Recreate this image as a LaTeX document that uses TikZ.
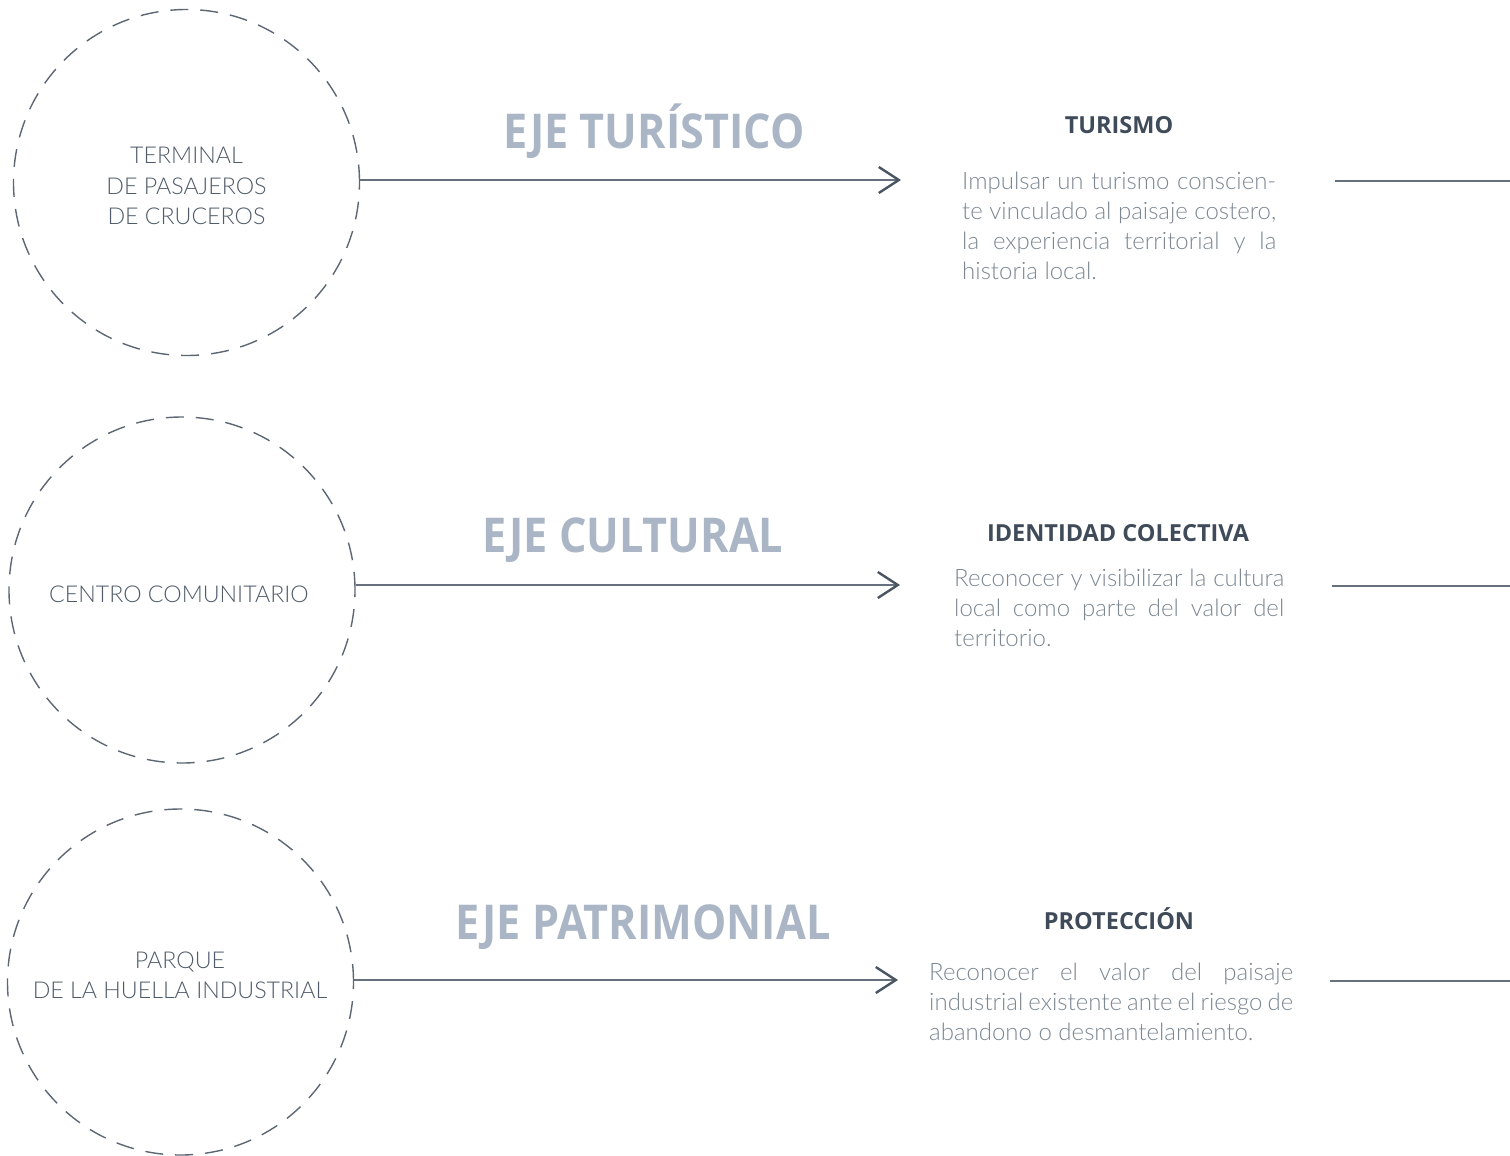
\documentclass[tikz,border=0pt]{standalone}
\usepackage{fontspec}
\setmainfont{Lato}
\newfontfamily\lightfont{Lato Light}
\newfontfamily\titlefont{Open Sans}[FakeStretch=0.9]
\newfontfamily\headfont{Open Sans}
\usetikzlibrary{arrows.meta}
\definecolor{titlec}{HTML}{AAB6C5}
\definecolor{headc}{HTML}{3F4B59}
\definecolor{bodyc}{HTML}{7C8792}
\definecolor{circtc}{HTML}{4F5B69}
\definecolor{linec}{HTML}{66717D}
\definecolor{tipc}{HTML}{4A5562}
\definecolor{dashc}{HTML}{5D6774}
\newcommand{\jstln}[2]{\makebox[#1][s]{#2}}
\newcommand{\lastln}[2]{\makebox[#1][l]{#2}}
\tikzset{
  hub/.style={circle, draw=dashc, line width=1.4pt, dash pattern=on 18pt off 12pt, minimum size=346pt, inner sep=0pt},
  hubtext/.style={text=circtc, align=center, inner sep=0pt, font=\lightfont\fontsize{23.2}{30.5}\selectfont},
  axis/.style={text=titlec, inner sep=0pt, anchor=base, font=\titlefont\bfseries\fontsize{48}{56}\selectfont},
  head/.style={text=headc, inner sep=0pt, anchor=base, font=\headfont\bfseries\fontsize{23.5}{28}\selectfont},
  body/.style={text=bodyc, align=left, inner sep=0pt, anchor=north west, font=\lightfont\fontsize{24}{30}\selectfont},
  link/.style={draw=linec, line width=1.8pt, -{Straight Barb[length=20pt, width=26pt, line width=2.4pt, color=tipc]}},
  tail/.style={draw=linec, line width=1.6pt}
}
\begin{document}
\begin{tikzpicture}[x=1pt, y=-1pt]
\useasboundingbox (0,0) rectangle (1510,1156);
% circles
\node[hub] (c1) at (186.5,182.5) {};
\node[hub] (c2) at (182,590) {};
\node[hub] (c3) at (180.5,982) {};
\node[hubtext] (t1) at (186.5,186) {TERMINAL\\DE PASAJEROS\\DE CRUCEROS};
\node[hubtext] (t2) at (179,594.5) {CENTRO COMUNITARIO};
\node[hubtext] (t3) at (180,975.5) {PARQUE\\DE LA HUELLA INDUSTRIAL};
% arrow targets
\coordinate (e1) at (901,180);
\coordinate (e2) at (900,585);
\coordinate (e3) at (898,980);
\draw[link] (c1.east |- e1) -- (e1);
\draw[link] (c2.east |- e2) -- (e2);
\draw[link] (c3.east |- e3) -- (e3);
% axis titles
\node[axis] (a1) at (654,148) {EJE TURÍSTICO};
\node[axis] (a2) at (633,552) {EJE CULTURAL};
\node[axis] (a3) at (643,939) {EJE PATRIMONIAL};
% headings
\node[head] (h1) at (1119,133) {TURISMO};
\node[head] (h2) at (1118,541) {IDENTIDAD COLECTIVA};
\node[head] (h3) at (1119,929) {PROTECCIÓN};
% bodies
\node[body] (b1) at (962,172) {\jstln{314pt}{Impulsar un turismo conscien-}\\\jstln{314pt}{te vinculado al paisaje costero,}\\\jstln{314pt}{la experiencia territorial y la}\\\lastln{314pt}{historia local.}};
\node[body] (b2) at (954,569) {\jstln{330pt}{Reconocer y visibilizar la cultura}\\\jstln{330pt}{local como parte del valor del}\\\lastln{330pt}{territorio.}};
\node[body] (b3) at (929,963) {\jstln{364pt}{Reconocer el valor del paisaje}\\\jstln{364pt}{industrial existente ante el riesgo de}\\\lastln{364pt}{abandono o desmantelamiento.}};
% tails
\coordinate (s1) at (1335,181);
\coordinate (f1) at (1510,181);
\coordinate (s2) at (1332,586);
\coordinate (f2) at (1510,586);
\coordinate (s3) at (1330,981);
\coordinate (f3) at (1510,981);
\draw[tail] (s1) -- (f1);
\draw[tail] (s2) -- (f2);
\draw[tail] (s3) -- (f3);
\end{tikzpicture}
\end{document}
